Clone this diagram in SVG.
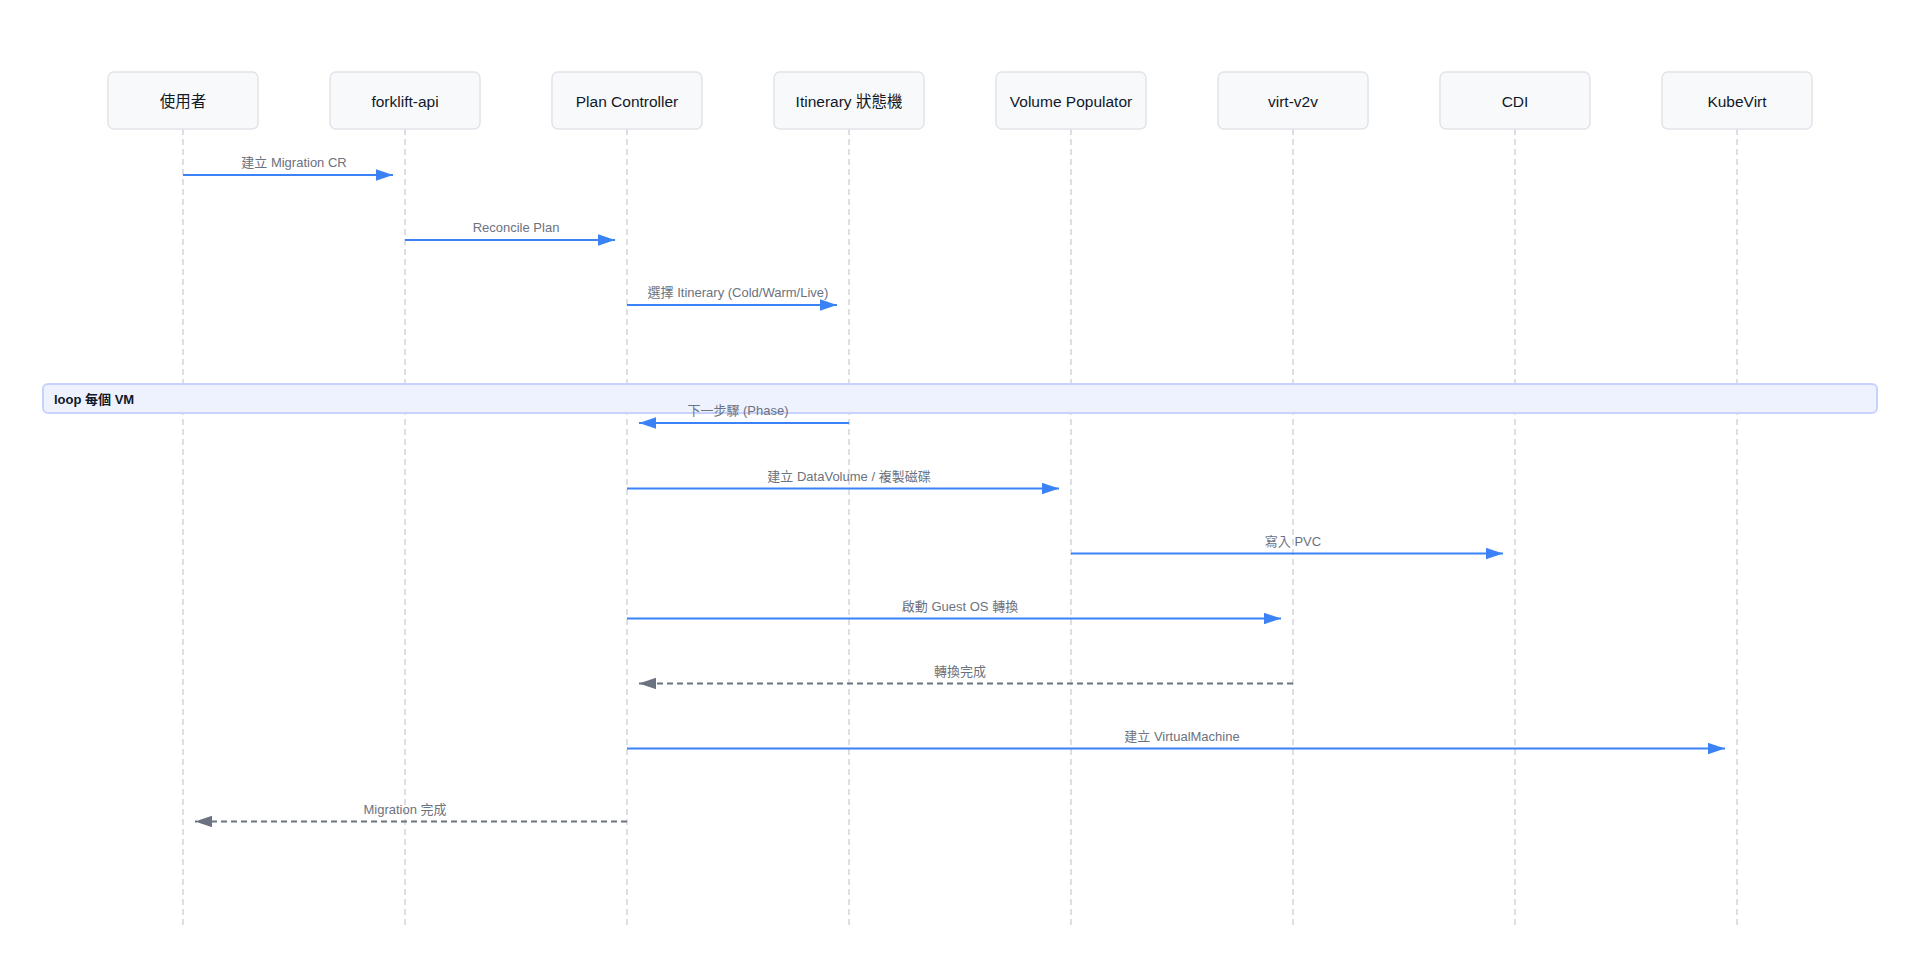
<svg xmlns="http://www.w3.org/2000/svg" width="1920" height="959" viewBox="0 0 1920 959">
<defs>
<style>
.actor rect{fill:#f8f9fb;stroke:#e1e4e8;stroke-width:1.5}
.actor text{font-family:"Liberation Sans","Noto Sans CJK TC",sans-serif;font-size:15.5px;fill:#111827;text-anchor:middle;dominant-baseline:central}
.life{stroke:#d1d5db;stroke-width:1.5;stroke-dasharray:6 4;fill:none}
.msg{stroke:#3b82f6;stroke-width:2;fill:none}
.msg.blue{marker-end:url(#ab)}
.msg.ret{stroke:#6b7280;stroke-dasharray:6 4;marker-end:url(#ag)}
.lbl{font-family:"Liberation Sans","Noto Sans CJK TC",sans-serif;font-size:13px;fill:#6b7280;text-anchor:middle;dominant-baseline:central}
.loop rect{fill:#eef2ff;stroke:#c7d2fe;stroke-width:2}
.loop text{font-family:"Liberation Sans","Noto Sans CJK TC",sans-serif;font-size:13px;font-weight:bold;fill:#111827;dominant-baseline:central}
</style>
<marker id="ab" markerUnits="userSpaceOnUse" markerWidth="18" markerHeight="12" refX="17" refY="5.7" orient="auto"><path d="M0,0 L17,5.7 L0,11.4 Z" fill="#3b82f6"/></marker>
<marker id="ag" markerUnits="userSpaceOnUse" markerWidth="18" markerHeight="12" refX="17" refY="5.7" orient="auto"><path d="M0,0 L17,5.7 L0,11.4 Z" fill="#6b7280"/></marker>
</defs>
<rect width="1920" height="959" fill="#ffffff"/>
<g id="lifelines">
<line class="life" x1="183" y1="129" x2="183" y2="926"/>
<line class="life" x1="405" y1="129" x2="405" y2="926"/>
<line class="life" x1="627" y1="129" x2="627" y2="926"/>
<line class="life" x1="849" y1="129" x2="849" y2="926"/>
<line class="life" x1="1071" y1="129" x2="1071" y2="926"/>
<line class="life" x1="1293" y1="129" x2="1293" y2="926"/>
<line class="life" x1="1515" y1="129" x2="1515" y2="926"/>
<line class="life" x1="1737" y1="129" x2="1737" y2="926"/>
</g>
<g id="actor-user" class="actor"><rect x="108" y="72" width="150" height="57" rx="6"/><text x="183" y="101">使用者</text></g>
<g id="actor-forklift-api" class="actor"><rect x="330" y="72" width="150" height="57" rx="6"/><text x="405" y="101">forklift-api</text></g>
<g id="actor-plan-controller" class="actor"><rect x="552" y="72" width="150" height="57" rx="6"/><text x="627" y="101">Plan Controller</text></g>
<g id="actor-itinerary" class="actor"><rect x="774" y="72" width="150" height="57" rx="6"/><text x="849" y="101">Itinerary 狀態機</text></g>
<g id="actor-volume-populator" class="actor"><rect x="996" y="72" width="150" height="57" rx="6"/><text x="1071" y="101">Volume Populator</text></g>
<g id="actor-virt-v2v" class="actor"><rect x="1218" y="72" width="150" height="57" rx="6"/><text x="1293" y="101">virt-v2v</text></g>
<g id="actor-cdi" class="actor"><rect x="1440" y="72" width="150" height="57" rx="6"/><text x="1515" y="101">CDI</text></g>
<g id="actor-kubevirt" class="actor"><rect x="1662" y="72" width="150" height="57" rx="6"/><text x="1737" y="101">KubeVirt</text></g>
<g id="loop-frame" class="loop"><rect x="43" y="384" width="1834" height="29" rx="5"/><text x="54" y="399">loop 每個 VM</text></g>
<g id="connectors">
<line class="msg blue" x1="183" y1="175" x2="393" y2="175"/>
<text class="lbl" x="294" y="162.5">建立 Migration CR</text>
<line class="msg blue" x1="405" y1="240" x2="615" y2="240"/>
<text class="lbl" x="516" y="227.5">Reconcile Plan</text>
<line class="msg blue" x1="627" y1="305" x2="837" y2="305"/>
<text class="lbl" x="738" y="292.5">選擇 Itinerary (Cold/Warm/Live)</text>
<line class="msg blue" x1="849" y1="423" x2="639" y2="423"/>
<text class="lbl" x="738" y="410.5">下一步驟 (Phase)</text>
<line class="msg blue" x1="627" y1="488.5" x2="1059" y2="488.5"/>
<text class="lbl" x="849" y="476">建立 DataVolume / 複製磁碟</text>
<line class="msg blue" x1="1071" y1="553.5" x2="1503" y2="553.5"/>
<text class="lbl" x="1293" y="541">寫入 PVC</text>
<line class="msg blue" x1="627" y1="618.5" x2="1281" y2="618.5"/>
<text class="lbl" x="960" y="606">啟動 Guest OS 轉換</text>
<line class="msg ret" x1="1293" y1="683.5" x2="639" y2="683.5"/>
<text class="lbl" x="960" y="671">轉換完成</text>
<line class="msg blue" x1="627" y1="748.5" x2="1725" y2="748.5"/>
<text class="lbl" x="1182" y="736">建立 VirtualMachine</text>
<line class="msg ret" x1="627" y1="821.5" x2="195" y2="821.5"/>
<text class="lbl" x="405" y="809">Migration 完成</text>
</g>
</svg>
